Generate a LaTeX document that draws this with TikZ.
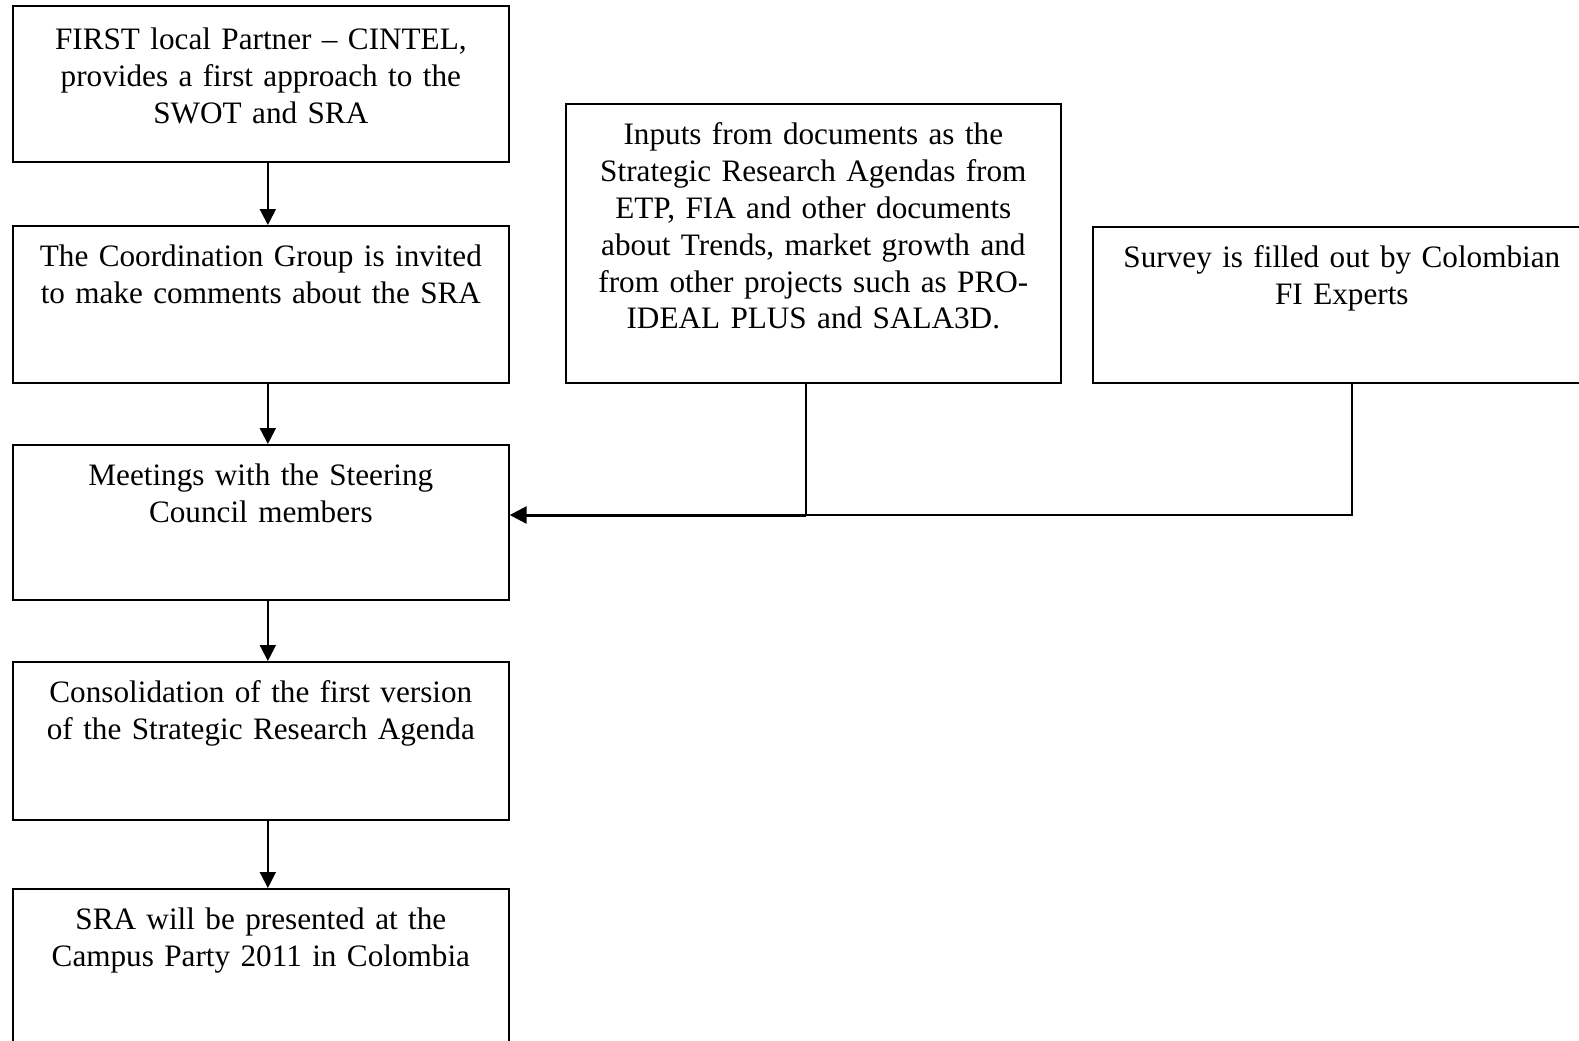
\documentclass[tikz,border=0pt]{standalone}
\usepackage{fontspec}
\setmainfont{Liberation Serif}
\usetikzlibrary{arrows.meta}

\tikzset{
  stepbox/.style={draw, line width=0.85pt, anchor=north west, text width=248pt,
    align=center, inner sep=0pt, font=\fontsize{15.6}{18.4}\selectfont, text height=20.5pt},
  flow/.style={line width=1pt, -{Triangle[width=8pt,length=8pt]}},
  feed/.style={line width=1pt},
  bigflow/.style={line width=1.5pt, -{Triangle[width=8.5pt,length=8.5pt]}}
}

\begin{document}
\begin{tikzpicture}[x=0.5pt,y=-0.5pt]
\useasboundingbox (0,0) rectangle (1579,1040);
\clip (0,0) rectangle (1579,1040);

% left column
\node[stepbox, text height=22pt, text depth=56pt] (swot) at (12,5)
  {FIRST local Partner -- CINTEL,\\ provides a first approach to the\\ SWOT and SRA};
\node[stepbox, text depth=58pt] (coord) at (12,225)
  {The Coordination Group is invited\\ to make comments about the SRA};
\node[stepbox, text depth=57pt] (steer) at (12,444)
  {Meetings with the Steering\\ Council members};
\node[stepbox, text depth=58.5pt] (consol) at (12,661)
  {Consolidation of the first version\\ of the Strategic Research Agenda};
\node[stepbox, text depth=65.5pt] (campus) at (12,888)
  {SRA will be presented at the\\ Campus Party 2011 in Colombia};

% inputs
\node[stepbox, text width=247.5pt, text depth=119pt] (inputs) at (565,103)
  {Inputs from documents as the\\ Strategic Research Agendas from\\ ETP, FIA and other documents\\
   about Trends, market growth and\\ from other projects such as PRO-\\ IDEAL PLUS and SALA3D.};
\node[stepbox, text width=249pt, text depth=57.5pt] (survey) at (1092,226)
  {Survey is filled out by Colombian\\ FI Experts};

\draw[flow] ([xshift=3.5pt]swot.south) -- ([xshift=3.5pt]coord.north);
\draw[flow] ([xshift=3.5pt]coord.south) -- ([xshift=3.5pt]steer.north);
\draw[flow] ([xshift=3.5pt]steer.south) -- ([xshift=3.5pt]consol.north);
\draw[flow] ([xshift=3.5pt]consol.south) -- ([xshift=3.5pt]campus.north);

\coordinate (join) at (806,515);
\draw[feed] (inputs.south -| join) -- (join);
\draw[feed] ([xshift=5pt]survey.south) |- (join);
\draw[bigflow] (join) -- (join -| steer.east);
\end{tikzpicture}
\end{document}
